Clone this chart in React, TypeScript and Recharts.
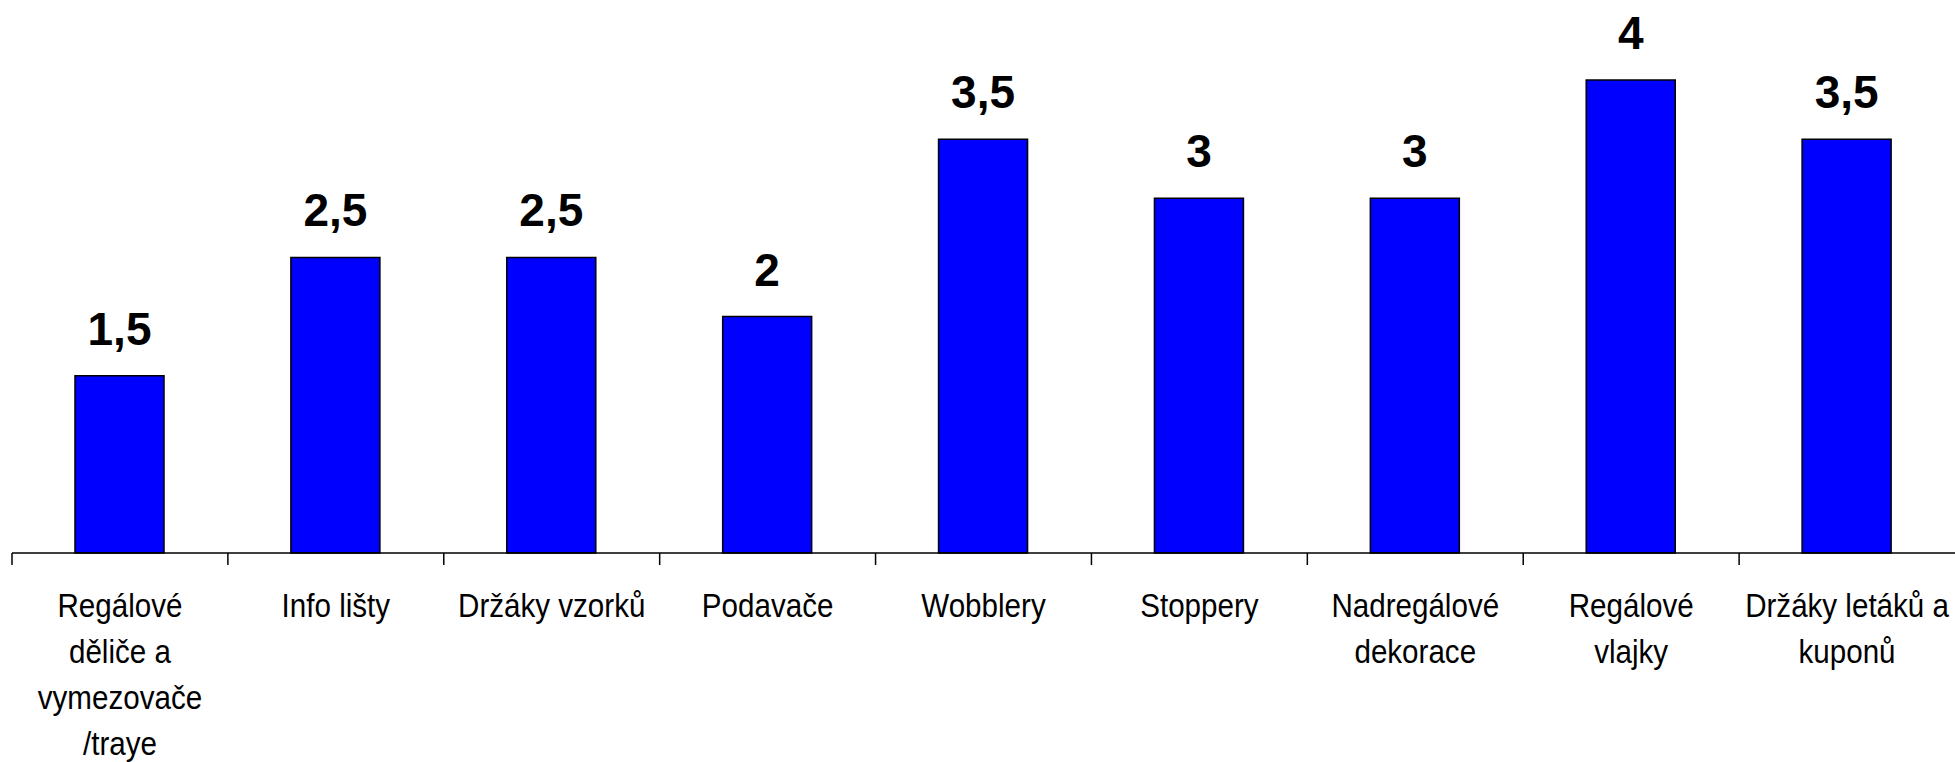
import { BarChart, Bar, XAxis, YAxis, LabelList } from 'recharts';

const categories = [
  'Regálové děliče a vymezovače /traye',
  'Info lišty',
  'Držáky vzorků',
  'Podavače',
  'Wobblery',
  'Stoppery',
  'Nadregálové dekorace',
  'Regálové vlajky',
  'Držáky letáků a kuponů',
];

// how each category label breaks into lines under the axis
const labelLines = [
  ['Regálové', 'děliče a', 'vymezovače', '/traye'],
  ['Info lišty'],
  ['Držáky vzorků'],
  ['Podavače'],
  ['Wobblery'],
  ['Stoppery'],
  ['Nadregálové', 'dekorace'],
  ['Regálové', 'vlajky'],
  ['Držáky letáků a', 'kuponů'],
];

const values = [1.5, 2.5, 2.5, 2, 3.5, 3, 3, 4, 3.5];

const data = categories.map((name, i) => ({ name, value: values[i] }));

const WIDTH = 1955;
const HEIGHT = 762;
const MARGIN = { top: 21, right: 0, left: 12, bottom: 0 };
const BAND = (WIDTH - MARGIN.left - MARGIN.right) / categories.length;

function CategoryTick(props: any) {
  const { x, y, index } = props;
  const lines = labelLines[index] || [];
  return (
    <g>
      <line x1={x - BAND / 2} x2={x - BAND / 2} y1={y - 8} y2={y + 4} stroke="#000" strokeWidth={1.5} />
      {/* the original uses a narrow face, squeeze Arial-metric text to match */}
      <g transform={`translate(${x},0) scale(0.87,1) translate(${-x},0)`}>
        <text
          x={x}
          y={y}
          textAnchor="middle"
          fontFamily="'Liberation Sans', Arial, sans-serif"
          fontSize={34}
          fill="#000"
        >
          {lines.map((l: string, i: number) => (
            <tspan key={i} x={x} y={y + 56 + i * 46}>
              {l}
            </tspan>
          ))}
        </text>
      </g>
    </g>
  );
}

export default function App() {
  return (
    <div style={{ position: 'absolute', left: 0, top: 0, background: '#fff' }}>
      <BarChart width={WIDTH} height={HEIGHT} data={data} margin={MARGIN}>
        <XAxis
          dataKey="name"
          height={209}
          interval={0}
          axisLine={{ stroke: '#000', strokeWidth: 1.5 }}
          tickLine={false}
          tick={<CategoryTick />}
        />
        <YAxis hide domain={[0, 4.5]} />
        <Bar dataKey="value" fill="#0000FF" stroke="#000" strokeWidth={1.5} barSize={89} isAnimationActive={false}>
          <LabelList
            dataKey="value"
            position="top"
            offset={31}
            formatter={(v: any) => String(v).replace('.', ',')}
            style={{ fontFamily: "'Liberation Sans', Arial, sans-serif", fontWeight: 'bold', fontSize: 46, fill: '#000' }}
          />
        </Bar>
      </BarChart>
    </div>
  );
}
